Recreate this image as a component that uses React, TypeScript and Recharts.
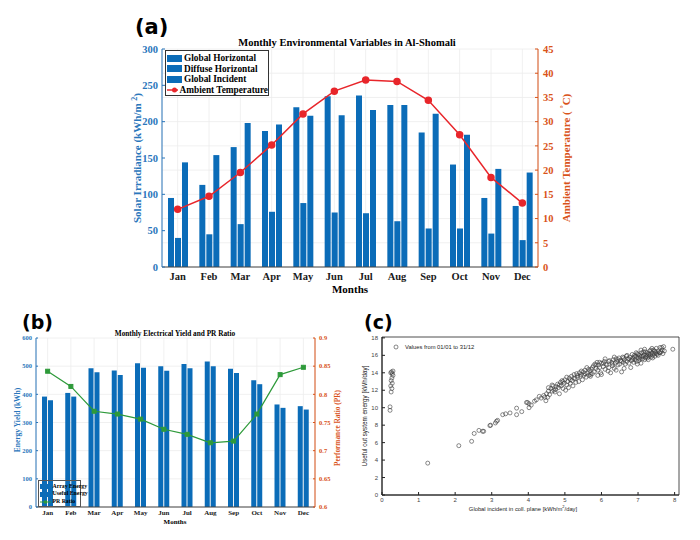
import React from "react";
import {
  ComposedChart,
  Bar,
  Line,
  XAxis,
  YAxis,
  CartesianGrid,
  ScatterChart,
  Scatter,
  ReferenceArea,
} from "recharts";

const months = ["Jan", "Feb", "Mar", "Apr", "May", "Jun", "Jul", "Aug", "Sep", "Oct", "Nov", "Dec"];

// panel (a)
const globalHorizontal = [95, 113, 165, 187, 220, 235, 236, 223, 185, 141, 95, 84];
const diffuseHorizontal = [40, 45, 59, 76, 88, 75, 74, 63, 53, 53, 46, 37];
const globalIncident = [144, 154, 198, 196, 208, 209, 216, 223, 211, 182, 135, 130];
const ambientTemp = [11.9, 14.6, 19.5, 25.2, 31.6, 36.3, 38.6, 38.3, 34.4, 27.3, 18.5, 13.2];
const irrTicks = [0, 50, 100, 150, 200, 250, 300];
const tempTicks = [0, 5, 10, 15, 20, 25, 30, 35, 40, 45];

// panel (b)
const arrayEnergy = [392, 405, 493, 485, 510, 500, 508, 517, 491, 450, 364, 358];
const usefulEnergy = [379, 392, 478, 469, 494, 484, 493, 500, 476, 436, 352, 346];
const prRatio = [0.841, 0.814, 0.77, 0.765, 0.756, 0.738, 0.729, 0.714, 0.717, 0.765, 0.835, 0.848];
const energyTicks = [0, 100, 200, 300, 400, 500, 600];
const prTicks = [0.6, 0.65, 0.7, 0.75, 0.8, 0.85, 0.9];

// panel (c): [global incident, useful energy]
const dailyPoints = [
  [0.22, 9.7], [0.22, 10.1], [0.25, 11.8], [0.27, 12.2], [0.24, 12.5], [0.28, 12.8], [0.25, 13.1],
  [0.27, 13.4], [0.3, 13.7], [0.28, 13.9], [0.26, 14.1], [0.3, 14.2], [0.24, 14.0],
  [1.25, 3.65], [2.1, 5.65], [2.45, 6.15], [2.52, 7.05], [2.65, 7.4], [2.75, 7.3], [2.78, 7.3],
  [2.95, 7.95], [2.97, 8.0], [3.1, 8.25], [3.13, 8.45], [3.16, 8.55], [3.3, 9.2], [3.38, 9.3],
  [3.5, 9.4], [3.68, 9.95], [3.68, 9.2], [3.82, 9.55], [3.95, 10.6], [3.98, 10.6], [4.02, 10.45],
  [4.02, 10.0], [4.08, 10.3], [4.17, 10.75], [4.22, 10.9], [4.3, 11.3], [4.35, 11.1],
  [4.42, 11.4], [4.45, 11.2], [4.48, 10.8], [4.5, 11.6], [4.53, 11.2], [4.55, 11.9], [4.58, 11.5],
  [4.62, 12.2], [4.65, 11.9], [4.68, 12.5], [4.7, 12.0], [4.73, 11.8], [4.76, 12.4],
  [4.8, 12.7], [4.82, 12.3], [4.85, 11.6], [4.88, 12.9], [4.9, 12.5], [4.92, 13.1],
  [4.95, 12.2], [4.98, 12.8], [5.0, 13.2], [5.02, 12.0], [5.05, 12.6], [5.08, 13.0], [5.1, 12.3],
  [5.12, 13.4], [5.15, 12.8], [5.18, 13.6], [5.2, 13.1], [5.22, 12.5], [5.25, 13.8], [5.28, 13.3],
  [5.3, 12.9], [5.32, 13.9], [5.35, 13.5], [5.38, 13.0], [5.4, 14.0], [5.42, 13.6], [5.45, 13.8],
  [5.48, 13.2], [5.5, 14.1], [5.52, 13.7], [5.55, 14.3], [5.58, 13.5], [5.6, 14.6], [5.62, 14.0],
  [5.65, 13.7], [5.68, 14.2], [5.7, 13.6], [5.72, 14.4], [5.75, 13.9], [5.78, 14.8], [5.8, 14.1],
  [5.82, 15.0], [5.85, 14.5], [5.88, 15.2], [5.9, 14.3], [5.92, 14.9], [5.95, 14.6], [5.98, 14.0],
  [6.0, 15.1], [6.05, 14.7], [6.08, 15.3], [6.1, 14.4], [6.12, 15.0], [6.15, 14.9], [6.18, 14.2],
  [6.2, 14.6], [6.22, 15.4], [6.25, 14.0], [6.28, 15.2], [6.3, 14.8], [6.32, 15.5], [6.35, 14.5],
  [6.38, 15.1], [6.4, 15.6], [6.42, 15.3], [6.45, 14.9], [6.48, 15.7], [6.5, 15.0], [6.52, 15.4],
  [6.55, 14.1], [6.58, 15.8], [6.6, 15.2], [6.62, 15.5], [6.65, 15.0], [6.68, 15.9], [6.7, 15.3],
  [6.72, 15.6], [6.75, 15.1], [6.78, 15.8], [6.8, 14.6], [6.82, 15.4], [6.84, 16.1], [6.86, 15.7],
  [6.88, 15.2], [6.9, 16.0], [6.92, 15.5], [6.94, 15.9], [6.96, 15.3], [6.98, 16.2], [7.0, 15.7],
  [7.02, 15.4], [7.04, 16.0], [7.06, 15.8], [7.08, 15.1], [7.1, 16.3], [7.12, 15.6], [7.14, 15.9],
  [7.16, 16.1], [7.18, 15.5], [7.2, 16.4], [7.22, 15.8], [7.24, 16.0], [7.26, 15.7], [7.28, 16.2],
  [7.3, 15.9], [7.32, 16.5], [7.34, 16.1], [7.36, 15.8], [7.38, 16.3], [7.4, 16.0], [7.42, 16.6],
  [7.44, 16.2], [7.46, 15.9], [7.48, 16.4], [7.5, 16.8], [7.52, 16.1], [7.55, 16.5], [7.58, 16.3],
  [7.6, 16.9], [7.63, 16.4], [7.66, 16.6], [7.7, 17.0], [7.72, 16.5], [7.95, 16.7],
  [6.85, 15.5], [6.9, 15.8], [6.95, 16.3], [7.0, 16.1], [7.05, 15.6], [7.1, 15.9], [7.15, 16.4],
  [7.2, 15.7], [7.25, 16.3], [7.3, 16.1], [7.35, 16.6], [7.4, 15.7], [7.45, 16.5], [7.5, 16.2],
  [7.55, 16.0], [7.6, 16.3], [7.65, 16.9], [7.68, 16.2], [6.75, 15.6], [6.7, 16.0], [6.6, 15.7],
  [6.55, 15.3], [6.45, 15.5], [6.35, 15.8], [6.3, 15.0], [6.2, 15.3], [6.1, 15.6], [6.05, 15.1],
  [5.95, 15.2], [5.85, 14.9], [5.75, 14.6], [5.65, 14.4], [5.55, 13.9], [5.45, 14.2], [5.35, 13.7],
  [5.25, 13.4], [5.15, 13.2], [5.05, 13.5], [4.95, 13.0], [4.85, 12.6], [4.75, 12.1], [4.65, 12.6],
  [4.55, 12.3], [6.98, 15.0], [7.08, 16.6], [7.18, 16.7], [7.28, 15.5], [7.38, 16.8], [6.62, 14.5],
  [6.4, 14.3], [6.0, 13.8], [5.9, 13.7], [5.7, 13.8],
];
const incidentTicks = [0, 1, 2, 3, 4, 5, 6, 7, 8];
const usefulTicks = [0, 2, 4, 6, 8, 10, 12, 14, 16, 18];

const SERIF = "'Liberation Serif', 'DejaVu Serif', serif";
const SANS = "'Liberation Sans', Arial, sans-serif";
const BLUE = "#0b6cb8";
const AXIS_BLUE = "#2a76bb";
const ORANGE = "#d95319";
const RED = "#e8262b";
const GREEN = "#2e9a3a";
const GRID = "#ececec";

const envData = months.map((m, i) => ({
  month: m,
  gh: globalHorizontal[i],
  dh: diffuseHorizontal[i],
  gi: globalIncident[i],
  temp: ambientTemp[i],
}));

const yieldData = months.map((m, i) => ({
  month: m,
  array: arrayEnergy[i],
  useful: usefulEnergy[i],
  pr: prRatio[i],
}));

const scatterData = dailyPoints.map(([x, y]) => ({ x, y }));

const abs = (left: number, top: number, extra: React.CSSProperties = {}): React.CSSProperties => ({
  position: "absolute",
  left,
  top,
  whiteSpace: "nowrap",
  ...extra,
});

function VLabel({ x, y, color, size, font, bold, children }: any) {
  return (
    <div
      style={abs(x, y, {
        transform: "translate(-50%, -50%) rotate(-90deg)",
        color,
        fontSize: size,
        fontFamily: font,
        fontWeight: bold ? "bold" : "normal",
        lineHeight: 1,
      })}
    >
      {children}
    </div>
  );
}

function Square(props: any) {
  const { cx, cy } = props;
  if (cx == null || cy == null) return null;
  return <rect x={cx - 2} y={cy - 2} width={4} height={4} fill={GREEN} stroke={GREEN} />;
}

function OpenCircle(props: any) {
  const { cx, cy } = props;
  return <circle cx={cx} cy={cy} r={2} fill="none" stroke="#3a3a3a" strokeWidth={0.6} />;
}

const noTick = () => <g />;

function PanelA() {
  const tickA = { fontSize: 10.5, fontWeight: "bold", fontFamily: SERIF };
  return (
    <>
      <div style={abs(0, 0)}>
        <ComposedChart
          width={700}
          height={310}
          data={envData}
          margin={{ top: 49, right: 122, left: 112, bottom: 13 }}
          barGap={1}
        >
          <CartesianGrid yAxisId="r" stroke={GRID} strokeWidth={0.8} />
          <XAxis
            dataKey="month"
            height={30}
            interval={0}
            tickLine={false}
            tickSize={0}
            tickMargin={6}
            axisLine={{ stroke: "#444" }}
            tick={{ ...tickA, fill: "#1a1a1a" }}
          />
          <YAxis
            yAxisId="l"
            width={50}
            domain={[0, 300]}
            ticks={irrTicks}
            tickSize={-3}
            tickMargin={7}
            axisLine={{ stroke: AXIS_BLUE }}
            tickLine={{ stroke: AXIS_BLUE }}
            tick={{ ...tickA, fill: AXIS_BLUE }}
          />
          <YAxis
            yAxisId="r"
            orientation="right"
            width={40}
            domain={[0, 45]}
            ticks={tempTicks}
            tickSize={-3}
            tickMargin={8}
            axisLine={{ stroke: ORANGE }}
            tickLine={{ stroke: ORANGE }}
            tick={{ ...tickA, fill: ORANGE }}
          />
          <Bar yAxisId="l" dataKey="gh" fill={BLUE} barSize={6} isAnimationActive={false} />
          <Bar yAxisId="l" dataKey="dh" fill={BLUE} barSize={6} isAnimationActive={false} />
          <Bar yAxisId="l" dataKey="gi" fill={BLUE} barSize={6} isAnimationActive={false} />
          <Line
            yAxisId="r"
            dataKey="temp"
            stroke={RED}
            strokeWidth={1.5}
            dot={{ r: 3, fill: RED, stroke: RED }}
            isAnimationActive={false}
          />
        </ComposedChart>
      </div>
      <div style={abs(135, 15, { fontSize: 21, fontWeight: "bold", fontFamily: "'DejaVu Sans', sans-serif" })}>
        (a)
      </div>
      <div
        style={abs(347, 42, {
          transform: "translate(-50%, -50%)",
          fontSize: 10.5,
          fontWeight: "bold",
          fontFamily: SERIF,
        })}
      >
        Monthly Environmental Variables in Al-Shomali
      </div>
      <div
        style={abs(350, 289, {
          transform: "translate(-50%, -50%)",
          fontSize: 11,
          fontWeight: "bold",
          fontFamily: SERIF,
        })}
      >
        Months
      </div>
      <VLabel x={137} y={158} color={AXIS_BLUE} size={11} font={SERIF} bold>
        Solar Irradiance (kWh/m <sup style={{ fontSize: 8 }}>2</sup>)
      </VLabel>
      <VLabel x={566} y={158} color={ORANGE} size={11} font={SERIF} bold>
        Ambient Temperature ( <sup style={{ fontSize: 8 }}>°</sup>C)
      </VLabel>
      <div
        style={abs(165, 50, {
          width: 104,
          height: 46,
          border: "1px solid #333",
          background: "#fff",
          fontSize: 9.3,
          fontWeight: "bold",
          fontFamily: SERIF,
          padding: "2px 0 0 1px",
          boxSizing: "border-box",
        })}
      >
        {["Global Horizontal", "Diffuse Horizontal", "Global Incident"].map((t) => (
          <div key={t} style={{ display: "flex", alignItems: "center", height: 10.5, lineHeight: "10.5px" }}>
            <span style={{ display: "inline-block", width: 15, height: 7, background: BLUE, marginRight: 2 }} />
            {t}
          </div>
        ))}
        <div style={{ display: "flex", alignItems: "center", height: 10.5, lineHeight: "10.5px" }}>
          <svg width={15} height={8} style={{ marginRight: 2 }}>
            <line x1={0} y1={4} x2={15} y2={4} stroke={RED} strokeWidth={1.5} />
            <circle cx={7.5} cy={4} r={2.5} fill={RED} />
          </svg>
          Ambient Temperature
        </div>
      </div>
    </>
  );
}

function PanelB() {
  const tickB = { fontSize: 6.5, fontWeight: "bold", fontFamily: SERIF };
  const row = { display: "flex", alignItems: "center", height: 7.7, lineHeight: "7.7px" } as React.CSSProperties;
  return (
    <>
      <div style={abs(0, 320)}>
        <ComposedChart
          width={350}
          height={210}
          data={yieldData}
          margin={{ top: 18, right: 13, left: 14, bottom: 9 }}
          barGap={1}
        >
          <CartesianGrid yAxisId="r" stroke={GRID} strokeWidth={0.8} />
          <XAxis
            dataKey="month"
            height={14}
            interval={0}
            tickLine={false}
            tickSize={0}
            tickMargin={3}
            axisLine={{ stroke: "#444" }}
            tick={{ ...tickB, fontSize: 7, fill: "#1a1a1a" }}
          />
          <YAxis
            yAxisId="l"
            width={22}
            domain={[0, 600]}
            ticks={energyTicks}
            tickSize={-2}
            tickMargin={6}
            axisLine={{ stroke: AXIS_BLUE }}
            tickLine={{ stroke: AXIS_BLUE }}
            tick={{ ...tickB, fill: AXIS_BLUE }}
          />
          <YAxis
            yAxisId="r"
            orientation="right"
            width={22}
            domain={[0.6, 0.9]}
            ticks={prTicks}
            tickSize={-2}
            tickMargin={6}
            axisLine={{ stroke: ORANGE }}
            tickLine={{ stroke: ORANGE }}
            tick={{ ...tickB, fill: ORANGE }}
          />
          <Bar yAxisId="l" dataKey="array" fill={BLUE} barSize={5} isAnimationActive={false} />
          <Bar yAxisId="l" dataKey="useful" fill={BLUE} barSize={5} isAnimationActive={false} />
          <Line
            yAxisId="r"
            dataKey="pr"
            stroke={GREEN}
            strokeWidth={1.2}
            dot={<Square />}
            isAnimationActive={false}
          />
        </ComposedChart>
      </div>
      <div style={abs(22, 311, { fontSize: 19, fontWeight: "bold", fontFamily: "'DejaVu Sans', sans-serif" })}>
        (b)
      </div>
      <div
        style={abs(175, 333, {
          transform: "translate(-50%, -50%)",
          fontSize: 7.3,
          fontWeight: "bold",
          fontFamily: SERIF,
        })}
      >
        Monthly Electrical Yield and PR Ratio
      </div>
      <div
        style={abs(175, 522, {
          transform: "translate(-50%, -50%)",
          fontSize: 7,
          fontWeight: "bold",
          fontFamily: SERIF,
        })}
      >
        Months
      </div>
      <VLabel x={18} y={420} color={AXIS_BLUE} size={7.5} font={SERIF} bold>
        Energy Yield (kWh)
      </VLabel>
      <VLabel x={338} y={428} color={ORANGE} size={7.3} font={SERIF} bold>
        Performance Ratio (PR)
      </VLabel>
      <div
        style={abs(38, 480, {
          width: 43,
          height: 27,
          border: "1px solid #555",
          fontSize: 5.8,
          fontWeight: "bold",
          fontFamily: SERIF,
          padding: "1.5px 0 0 1px",
          boxSizing: "border-box",
        })}
      >
        {["Array Energy", "Useful Energy"].map((t) => (
          <div key={t} style={row}>
            <span style={{ display: "inline-block", width: 11, height: 5, background: BLUE, marginRight: 1.5, flexShrink: 0 }} />
            {t}
          </div>
        ))}
        <div style={row}>
          <svg width={11} height={6} style={{ marginRight: 1.5, flexShrink: 0 }}>
            <line x1={0} y1={3} x2={11} y2={3} stroke={GREEN} strokeWidth={1} />
            <rect x={4} y={1.5} width={3} height={3} fill={GREEN} />
          </svg>
          PR Ratio
        </div>
      </div>
    </>
  );
}

function PanelC() {
  const tickC = { fontSize: 6, fill: "#444", fontFamily: SANS };
  return (
    <>
      <div style={abs(350, 320)}>
        <ScatterChart width={350} height={210} margin={{ top: 17, right: 21, left: 16, bottom: 23 }}>
          <XAxis
            type="number"
            dataKey="x"
            domain={[0, 8.12]}
            ticks={incidentTicks}
            height={12}
            tickSize={-3}
            tickMargin={6}
            axisLine={{ stroke: "#222" }}
            tickLine={{ stroke: "#222" }}
            tick={tickC}
            allowDataOverflow
          />
          <XAxis
            xAxisId="top"
            orientation="top"
            type="number"
            domain={[0, 8.12]}
            ticks={incidentTicks}
            height={0}
            tickSize={-3}
            axisLine={false}
            tickLine={{ stroke: "#222" }}
            tick={noTick}
            allowDataOverflow
          />
          <YAxis
            type="number"
            dataKey="y"
            domain={[0, 18.1]}
            ticks={usefulTicks}
            width={16}
            tickSize={-3}
            tickMargin={7}
            axisLine={{ stroke: "#222" }}
            tickLine={{ stroke: "#222" }}
            tick={tickC}
            allowDataOverflow
          />
          <YAxis
            yAxisId="right"
            orientation="right"
            type="number"
            domain={[0, 18.1]}
            ticks={usefulTicks}
            width={0}
            tickSize={-3}
            axisLine={false}
            tickLine={{ stroke: "#222" }}
            tick={noTick}
            allowDataOverflow
          />
          <ReferenceArea x1={0} x2={8.12} y1={0} y2={18.1} fill="none" fillOpacity={0} stroke="#222" strokeWidth={0.8} />
          <Scatter data={scatterData} shape={<OpenCircle />} isAnimationActive={false} />
        </ScatterChart>
      </div>
      <div style={abs(364, 311, { fontSize: 19, fontWeight: "bold", fontFamily: "'DejaVu Sans', sans-serif" })}>
        (c)
      </div>
      <div style={abs(392, 343, { fontSize: 5.8, fontFamily: SANS, color: "#222", display: "flex", alignItems: "center" })}>
        <svg width={8} height={8} style={{ marginRight: 5 }}>
          <circle cx={4} cy={4} r={2} fill="none" stroke="#3a3a3a" strokeWidth={0.6} />
        </svg>
        Values from 01/01 to 31/12
      </div>
      <div
        style={abs(523, 508, {
          transform: "translate(-50%, -50%)",
          fontSize: 5.8,
          fontFamily: SANS,
          color: "#222",
        })}
      >
        Global incident in coll. plane [kWh/m<sup style={{ fontSize: 4 }}>2</sup>/day]
      </div>
      <VLabel x={365} y={416} color="#222" size={6.3} font={SANS}>
        Useful out system energy [kWh/day]
      </VLabel>
    </>
  );
}

export default function App() {
  return (
    <div style={{ position: "absolute", left: 0, top: 0, width: 700, height: 540, background: "#fff", overflow: "hidden" }}>
      <PanelA />
      <PanelB />
      <PanelC />
    </div>
  );
}
